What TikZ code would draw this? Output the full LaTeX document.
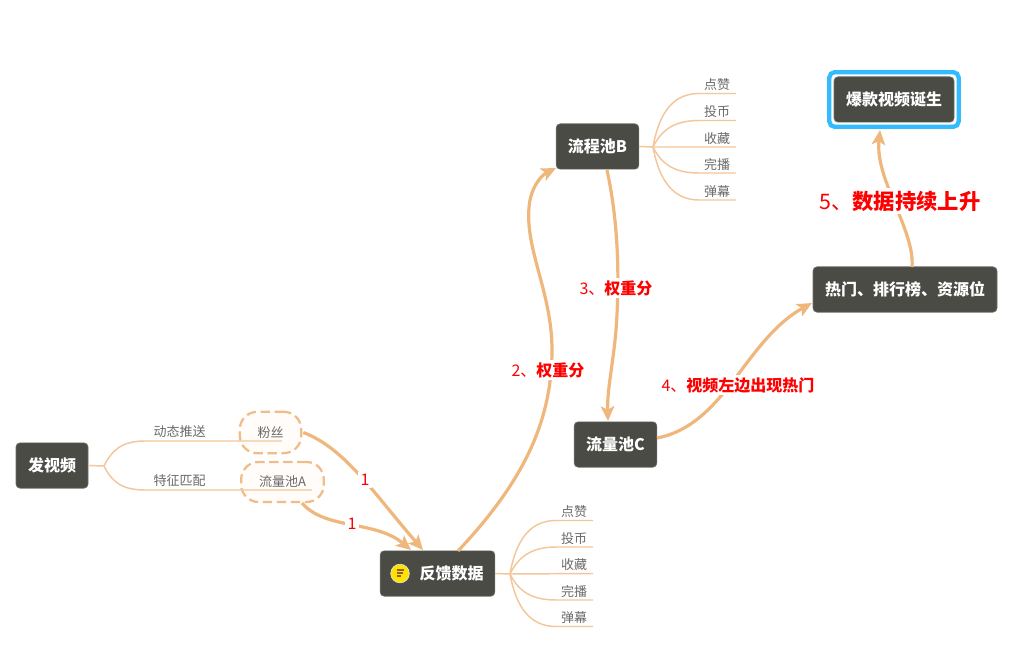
\documentclass[tikz,border=0pt]{standalone}
\usepackage{fontspec}
\setmainfont{Noto Sans CJK SC}
\usetikzlibrary{arrows.meta}
\definecolor{nodebg}{HTML}{4B4B45}
\definecolor{thin}{HTML}{F3C79B}
\definecolor{flow}{HTML}{EFB77C}
\definecolor{dashc}{HTML}{F0BD88}
\definecolor{txt}{HTML}{6A6A6A}
\definecolor{halocol}{HTML}{33BBFF}
\tikzset{
 mainbox/.style={fill=nodebg,draw=nodebg!80!white,line width=0.5pt,rounded corners=3pt,text=white,font=\fontsize{12}{14}\selectfont\bfseries,inner sep=0pt,anchor=center},
 dashbox/.style={fill=orange!2,draw=dashc,line width=1.7pt,dash pattern=on 7pt off 3.5pt,rounded corners=13pt,inner sep=0pt,text=txt,font=\fontsize{9.75}{11}\selectfont},
 leaf/.style={text=txt,font=\fontsize{9.75}{11}\selectfont,inner sep=0pt},
 branch/.style={draw=thin,line width=1.1pt},
 flowline/.style={draw=flow,line width=2.4pt,-{Stealth[length=11pt,width=10pt,inset=2.5pt]}},
 redlabel/.style={text=red,font=\fontsize{12}{14}\selectfont\bfseries,fill=white,inner sep=2pt},
 redplain/.style={text=red,font=\fontsize{12}{14}\selectfont,fill=white,inner sep=2pt},
}
\begin{document}
\begin{tikzpicture}[x=0.75pt,y=-0.75pt]
\useasboundingbox[fill=white] (0,0) rectangle (1024,659);
% main nodes
\node[mainbox,minimum width=54pt,minimum height=34pt] (fa) at (52,465.5) {发视频};
\node[dashbox,minimum width=46pt,minimum height=31pt] (fs) at (270.5,432.5) {粉丝};
\node[dashbox,minimum width=62pt,minimum height=30pt] (lA) at (282.5,482) {流量池A};
\node[mainbox,minimum width=86pt,minimum height=34pt] (fk) at (437.5,573.5) {\hspace*{21pt}反馈数据};
\node[mainbox,minimum width=62pt,minimum height=34pt] (lB) at (597.5,146.5) {流程池B};
\node[mainbox,minimum width=62pt,minimum height=34pt] (lC) at (615.5,444.5) {流量池C};
\node[mainbox,minimum width=138pt,minimum height=34pt] (hot) at (905,289.5) {热门、排行榜、资源位};
\node[draw=halocol,line width=3.2pt,rounded corners=4pt,minimum width=97pt,minimum height=41pt,inner sep=0pt] (halo) at (894,99.5) {};
\node[mainbox,minimum width=90pt,minimum height=34pt] (bk) at (894,99.5) {爆款视频诞生};
% icon
\node[circle,fill=yellow!85!orange,draw=white!85!gray,line width=0.4pt,minimum size=14pt,inner sep=0pt] (ic) at (400,573.5) {};
\draw[nodebg!60!orange,line width=0.8pt] (396.5,570)--(404,570) (396.5,573)--(403,573) (396.5,576)--(400.5,576);
% branches from 发视频
\coordinate (j1) at (104,466);
\coordinate (e1) at (282,441);
\coordinate (e2) at (312,490);
\node[leaf] (t1) at (179.5,432) {动态推送};
\node[leaf] (t2) at (179.5,481) {特征匹配};
\draw[branch] (fa.east) -- (j1);
\draw[branch] (j1) .. controls (112,450) and (122,441) .. (145,441) -- (e1);
\draw[branch] (j1) .. controls (112,482) and (122,490) .. (145,490) -- (e2);
% leaves of 反馈数据
\coordinate (j2) at (510,574);
\foreach \n/\y/\t in {1/520.5/点赞,2/547/投币,3/573.5/收藏,4/600/完播,5/626.5/弹幕}{
  \node[leaf] (a\n) at (574,\y-8.5) {\t};
  \coordinate (ae\n) at (593,\y);
}
\draw[branch] (fk.east) -- (j2) -- (ae3);
\draw[branch] (j2) .. controls (516,540) and (530,520.5) .. (556,520.5) -- (ae1);
\draw[branch] (j2) .. controls (518,558) and (530,547) .. (556,547) -- (ae2);
\draw[branch] (j2) .. controls (518,590) and (530,600) .. (556,600) -- (ae4);
\draw[branch] (j2) .. controls (516,607) and (530,626.5) .. (556,626.5) -- (ae5);
% leaves of 流程池B
\coordinate (j3) at (653,147);
\foreach \n/\y/\t in {1/93.5/点赞,2/120.5/投币,3/147/收藏,4/173/完播,5/200/弹幕}{
  \node[leaf] (b\n) at (717,\y-8.5) {\t};
  \coordinate (be\n) at (736,\y);
}
\draw[branch] (lB.east) -- (j3) -- (be3);
\draw[branch] (j3) .. controls (659,113) and (673,93.5) .. (699,93.5) -- (be1);
\draw[branch] (j3) .. controls (661,131) and (673,120.5) .. (699,120.5) -- (be2);
\draw[branch] (j3) .. controls (661,163) and (673,173) .. (699,173) -- (be4);
\draw[branch] (j3) .. controls (659,180) and (673,200) .. (699,200) -- (be5);
% flows
\coordinate (fkin1) at (423,550);
\coordinate (fkin2) at (411,550);
\draw[flowline] (fs.east) ++(1,0) .. controls (345,448) and (375,495) .. (fkin1);
\draw[flowline] (302,503) .. controls (325,530) and (375,520) .. (fkin2);
\draw[flowline] (458,551) .. controls (520,485) and (552,425) .. (552,350) .. controls (552,290) and (522,245) .. (530,200) .. controls (533,185) and (542,175) .. (556,168);
\draw[flowline] (607,170) .. controls (620,230) and (619,290) .. (616,330) .. controls (613,365) and (607,390) .. (608,421);
\draw[flowline] (657,438) .. controls (725,425) and (745,340) .. (812,303);
\draw[flowline] (912,267) .. controls (915,230) and (875,180) .. (880,130);
% labels
\node[redplain] (n1) at (365,480) {1};
\node[redplain] (n2) at (352,524) {1};
\node[redlabel] (w2) at (548,370) {\mdseries 2、\bfseries 权重分};
\node[redlabel] (w3) at (616,288) {\mdseries 3、\bfseries 权重分};
\node[redlabel] (w4) at (738,385) {\mdseries 4、\bfseries 视频左边出现热门};
\node[text=red,fill=white,inner sep=2pt,font=\fontsize{16}{18}\selectfont\bfseries] (w5) at (900,201) {\mdseries 5、\bfseries 数据持续上升};
\end{tikzpicture}
\end{document}
